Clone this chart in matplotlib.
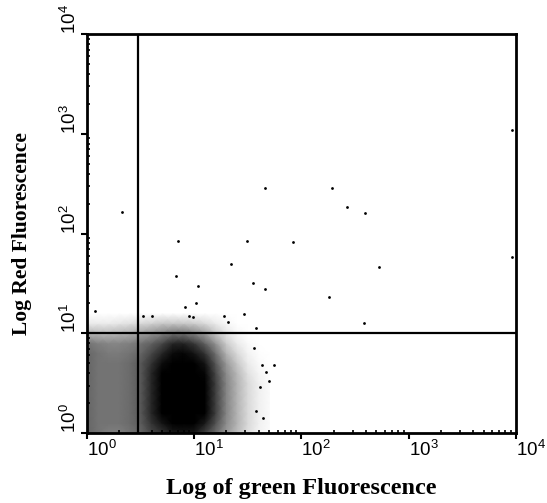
import numpy as np
import matplotlib
matplotlib.use('Agg')
import matplotlib.pyplot as plt
from matplotlib.ticker import LogLocator, NullFormatter

# density of the main cell cloud (0 = empty, 1 = solid black)
# rows: log10(red) = 0.0, 0.1, ... 1.2 ; columns: log10(green) = 0.0, 0.1, ... 1.7
green_log_nodes = [0.0, 0.1, 0.2, 0.3, 0.4, 0.5, 0.6, 0.7, 0.8, 0.9,
                   1.0, 1.1, 1.2, 1.3, 1.4, 1.5, 1.6, 1.7]
red_log_nodes = [0.0, 0.1, 0.2, 0.3, 0.4, 0.5, 0.6, 0.7, 0.8, 0.9, 1.0, 1.1, 1.2]
cloud_density = [
    [0.60, 0.55, 0.50, 0.50, 0.55, 0.60, 0.72, 0.80, 0.90, 0.92, 0.90, 0.75, 0.58, 0.40, 0.26, 0.13, 0.05, 0.02],
    [0.60, 0.55, 0.55, 0.55, 0.58, 0.64, 0.80, 0.92, 1.00, 1.00, 1.00, 0.90, 0.68, 0.45, 0.30, 0.15, 0.06, 0.02],
    [0.60, 0.55, 0.55, 0.55, 0.58, 0.65, 0.85, 1.00, 1.00, 1.00, 1.00, 1.00, 0.75, 0.48, 0.30, 0.15, 0.06, 0.02],
    [0.60, 0.55, 0.55, 0.55, 0.58, 0.65, 0.85, 1.00, 1.00, 1.00, 1.00, 1.00, 0.75, 0.48, 0.30, 0.15, 0.06, 0.02],
    [0.60, 0.55, 0.55, 0.55, 0.58, 0.65, 0.85, 1.00, 1.00, 1.00, 1.00, 1.00, 0.75, 0.48, 0.30, 0.15, 0.06, 0.02],
    [0.60, 0.55, 0.55, 0.55, 0.58, 0.65, 0.85, 1.00, 1.00, 1.00, 1.00, 1.00, 0.75, 0.48, 0.30, 0.15, 0.06, 0.02],
    [0.60, 0.55, 0.55, 0.55, 0.58, 0.65, 0.85, 1.00, 1.00, 1.00, 1.00, 0.98, 0.72, 0.45, 0.28, 0.12, 0.04, 0.01],
    [0.60, 0.55, 0.55, 0.55, 0.58, 0.65, 0.80, 0.95, 1.00, 1.00, 1.00, 0.92, 0.66, 0.40, 0.22, 0.08, 0.02, 0.00],
    [0.60, 0.55, 0.52, 0.52, 0.55, 0.60, 0.72, 0.85, 0.96, 0.98, 0.92, 0.80, 0.56, 0.30, 0.15, 0.05, 0.01, 0.00],
    [0.55, 0.50, 0.48, 0.48, 0.50, 0.55, 0.62, 0.72, 0.85, 0.86, 0.78, 0.62, 0.42, 0.20, 0.08, 0.02, 0.00, 0.00],
    [0.30, 0.28, 0.28, 0.30, 0.32, 0.36, 0.42, 0.48, 0.55, 0.55, 0.48, 0.38, 0.22, 0.10, 0.03, 0.00, 0.00, 0.00],
    [0.08, 0.08, 0.08, 0.10, 0.12, 0.15, 0.18, 0.22, 0.22, 0.22, 0.20, 0.15, 0.08, 0.03, 0.00, 0.00, 0.00, 0.00],
    [0.00, 0.00, 0.00, 0.00, 0.00, 0.00, 0.00, 0.00, 0.00, 0.00, 0.00, 0.00, 0.00, 0.00, 0.00, 0.00, 0.00, 0.00],
]

# scattered single events outside the main cloud
green_events = [46, 194, 267, 391, 7.0, 31, 83, 22, 528, 9300, 6.7, 10.9, 35, 46,
                179, 10.5, 8.2, 385, 29, 19, 3.3, 4.0, 8.9, 9.8, 20.6, 38, 2.1,
                1.2, 9300, 36, 43, 55, 47, 50, 41, 38, 44]
red_events = [290, 290, 185, 160, 85, 84, 82, 50, 46, 58, 38, 30, 32, 28,
              23, 20, 18.5, 12.8, 15.6, 15, 14.9, 14.9, 15.1, 14.7, 13.1, 11.2, 163,
              16.7, 1090, 7.2, 4.8, 4.8, 4.1, 3.3, 2.9, 1.65, 1.41]

# quadrant gate
green_gate = 3.0
red_gate = 10.0

fig = plt.figure(figsize=(5.47, 5.03), dpi=100)
fig.patch.set_facecolor('white')
ax = fig.add_axes([0.159, 0.139, 0.784, 0.793])

gx, gy = np.meshgrid(10 ** np.array(green_log_nodes), 10 ** np.array(red_log_nodes))
ax.pcolormesh(gx, gy, np.array(cloud_density), shading='gouraud',
              cmap='gray_r', vmin=0, vmax=1, zorder=1, rasterized=True)
ax.scatter(green_events, red_events, s=4, c='black', linewidths=0, zorder=2)

ax.axvline(green_gate, color='black', lw=1.6, zorder=3)
ax.axhline(red_gate, color='black', lw=1.6, zorder=3)

ax.set_xscale('log')
ax.set_yscale('log')
ax.set_xlim(1, 1e4)
ax.set_ylim(1, 1e4)

for s in ax.spines.values():
    s.set_linewidth(2.0)

ax.xaxis.set_major_locator(LogLocator(base=10, numticks=10))
ax.yaxis.set_major_locator(LogLocator(base=10, numticks=10))
ax.xaxis.set_minor_locator(LogLocator(base=10, subs=np.arange(2, 10), numticks=10))
ax.yaxis.set_minor_locator(LogLocator(base=10, subs=np.arange(2, 10), numticks=10))
ax.xaxis.set_minor_formatter(NullFormatter())
ax.yaxis.set_minor_formatter(NullFormatter())
ax.tick_params(which='major', direction='out', length=4, width=1.5,
               labelsize=13.5, pad=1)
ax.tick_params(which='minor', direction='in', length=2.5, width=1.2)
# tick labels start at their tick, as in the reference
for lbl in ax.get_xticklabels():
    lbl.set_family('Liberation Sans')
    lbl.set_ha('left')
for lbl in ax.get_yticklabels():
    lbl.set_family('Liberation Sans')
    lbl.set_rotation(90)
    lbl.set_va('bottom')

ax.set_xlabel('Log of green Fluorescence', family='Liberation Serif',
              fontsize=17.5, fontweight='bold', labelpad=13)
ax.set_ylabel('Log Red Fluorescence', family='Liberation Serif',
              fontsize=15.5, fontweight='bold', labelpad=20)

fig.savefig('out.png', dpi=100, facecolor='white')
